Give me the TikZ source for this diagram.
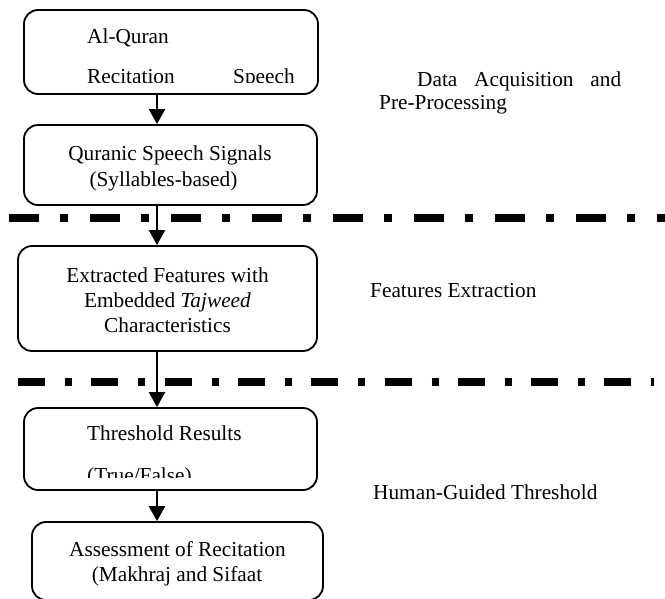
\documentclass[tikz,border=0pt]{standalone}
\usepackage{fontspec}
\setmainfont{Liberation Serif}
\usetikzlibrary{arrows.meta}
\begin{document}
\begin{tikzpicture}[x=1pt,y=-1pt,
  box/.style={draw, line width=1.8pt, rounded corners=14pt, inner sep=0pt},
  txt/.style={inner sep=0pt, font=\fontsize{21.3pt}{25pt}\selectfont},
  arr/.style={line width=2.2pt, -{Triangle[width=16pt,length=15pt]}},
  sepline/.style={line width=8pt, line cap=butt}]
\useasboundingbox (0,0) rectangle (665,598);
% boxes
\node[box, minimum width=294pt, minimum height=84pt] (b1) at (171,52) {};
\node[box, minimum width=293pt, minimum height=80pt] (b2) at (170.5,165) {};
\node[box, minimum width=299pt, minimum height=105pt] (b3) at (167.5,298.5) {};
\node[box, minimum width=293pt, minimum height=82pt] (b4) at (170.5,449) {};
\node[box, minimum width=291pt, minimum height=78pt] (b5) at (177.5,561) {};
% box texts
\node[txt, anchor=base west] (t1a) at (87,43.5) {Al-Quran};
\begin{scope}
  \clip (0,0) rectangle (665,82);
  \node[txt, anchor=base west] (t1b) at (87,83.5) {Recitation};
  \node[txt, anchor=base west] (t1c) at (233,83.5) {Speech};
\end{scope}
\node[txt, anchor=base] (t2a) at (170,160.5) {Quranic Speech Signals};
\node[txt, anchor=base] (t2b) at (163.5,186.5) {(Syllables-based)};
\node[txt, anchor=base] (t3a) at (167.5,282.5) {Extracted Features with};
\node[txt, anchor=base] (t3b) at (167.5,307.5) {Embedded \textit{Tajweed}};
\node[txt, anchor=base] (t3c) at (167.5,332) {Characteristics};
\node[txt, anchor=base west] (t4a) at (87,440) {Threshold Results};
\begin{scope}
  \clip (0,0) rectangle (665,477);
  \node[txt, anchor=base west] (t4b) at (87,482) {(True/False)};
\end{scope}
\node[txt, anchor=base] (t5a) at (177.5,556.5) {Assessment of Recitation};
\node[txt, anchor=base] (t5b) at (177,581) {(Makhraj and Sifaat};
% right labels
\node[txt, anchor=base west] (l1a) at (417,86) {\makebox[204pt][s]{Data\hfill Acquisition\hfill and}};
\node[txt, anchor=base west] (l1b) at (379,109.5) {Pre-Processing};
\node[txt, anchor=base west] (l2) at (370,297.5) {Features Extraction};
\node[txt, anchor=base west] (l3) at (373,499) {Human-Guided Threshold};
% separators
\coordinate (s1a) at (9,218);
\coordinate (s1b) at (670,218);
\coordinate (s2a) at (18,382);
\coordinate (s2b) at (654,382);
\draw[sepline, dash pattern=on 30pt off 21pt on 8pt off 22pt] (s1a) -- (s1b);
\draw[sepline, dash pattern=on 27pt off 20pt on 7pt off 19.3pt] (s2a) -- (s2b);
% arrows
\coordinate (ax) at (157,0);
\draw[arr] (b1.south -| ax) -- (b2.north -| ax);
\draw[arr] (b2.south -| ax) -- (b3.north -| ax);
\draw[arr] (b3.south -| ax) -- (b4.north -| ax);
\draw[arr] (b4.south -| ax) -- (b5.north -| ax);
\end{tikzpicture}
\end{document}
